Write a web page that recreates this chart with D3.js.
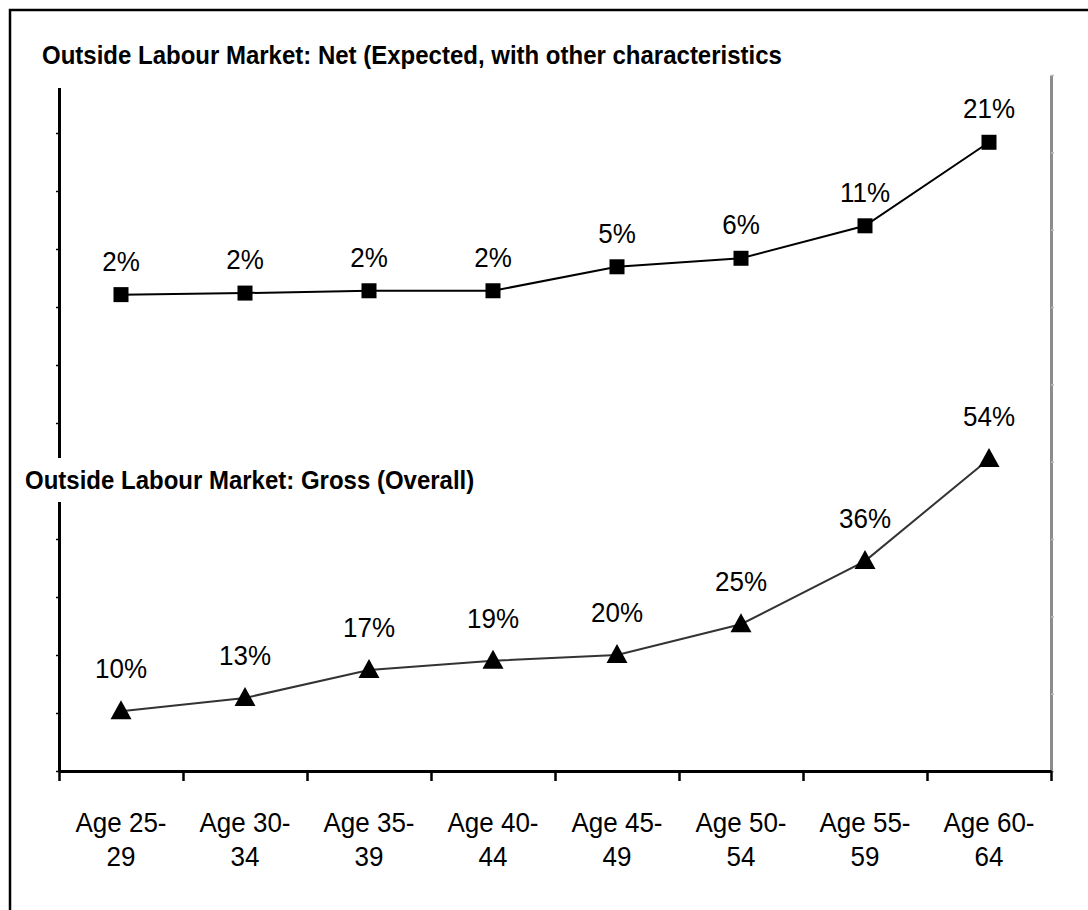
<!DOCTYPE html>
<html>
<head>
<meta charset="utf-8">
<script src="https://cdn.jsdelivr.net/npm/d3@7"></script>
<style>
  html, body { margin: 0; padding: 0; background: #fff; }
  svg { display: block; font-family: "Liberation Sans", Arial, sans-serif; }
</style>
</head>
<body>
<svg id="chart" width="1088" height="910"></svg>
<script>
// ---- data ----
const categories = ["Age 25-29", "Age 30-34", "Age 35-39", "Age 40-44", "Age 45-49", "Age 50-54", "Age 55-59", "Age 60-64"];
const categoryLines = [["Age 25-", "29"], ["Age 30-", "34"], ["Age 35-", "39"], ["Age 40-", "44"], ["Age 45-", "49"], ["Age 50-", "54"], ["Age 55-", "59"], ["Age 60-", "64"]];
const netValues = [0.016, 0.018, 0.021, 0.021, 0.052, 0.063, 0.105, 0.213];
const grossValues = [0.103, 0.126, 0.174, 0.190, 0.200, 0.253, 0.362, 0.538];
const leftTicks = [0, 0.1, 0.2, 0.3, 0.4, 0.5, 0.6, 0.7, 0.8, 0.9, 1.0, 1.1, 1.2];
const rightTicks = [-0.6, -0.5, -0.4, -0.3, -0.2, -0.1, 0, 0.1, 0.2, 0.3];
const netTitle = "Outside Labour Market: Net (Expected, with other characteristics";
const grossTitle = "Outside Labour Market: Gross (Overall)";

// ---- layout ----
const svg = d3.select("#chart");
const plotLeft = 59, plotRight = 1051, plotTop = 75, plotBottom = 771;
const stretch = 1.08;

svg.append("rect").attr("x", 10).attr("y", 10).attr("width", 1100).attr("height", 920)
  .attr("fill", "#fff").attr("stroke", "#000").attr("stroke-width", 2.5);

const x = d3.scaleBand().domain(categories).range([plotLeft, plotRight]).padding(0);
const xc = d => x(d) + x.bandwidth() / 2;
const xEdge = d3.scaleLinear().domain([0, categories.length]).range([plotLeft, plotRight]);
const yL = d3.scaleLinear().domain([0, 1.2]).range([plotBottom, plotTop]);
const yR = d3.scaleLinear().domain([-0.6, 0.3]).range([plotBottom, plotTop]);

// right axis (gray)
const gR = svg.append("g").attr("transform", `translate(${plotRight},0)`)
  .call(d3.axisRight(yR).tickValues(rightTicks).tickSize(3).tickSizeOuter(0).tickFormat(""));
gR.select(".domain").attr("stroke", "#8c8c8c").attr("stroke-width", 3);
gR.selectAll(".tick line").attr("stroke", "#bbb").attr("stroke-width", 1.5);

// left axis
const gL = svg.append("g").attr("transform", `translate(${plotLeft},0)`)
  .call(d3.axisLeft(yL).tickValues(leftTicks).tickSize(3).tickSizeOuter(0).tickFormat(""));
gL.select(".domain").attr("stroke", "#000").attr("stroke-width", 3);
gL.selectAll(".tick line").attr("stroke", "#000").attr("stroke-width", 1.5);

// bottom axis
const gB = svg.append("g").attr("transform", `translate(0,${plotBottom})`)
  .call(d3.axisBottom(xEdge).tickValues(d3.range(categories.length + 1)).tickSize(10).tickSizeOuter(0).tickFormat(""));
gB.select(".domain").attr("stroke", "#000").attr("stroke-width", 3);
gB.selectAll(".tick line").attr("stroke", "#000").attr("stroke-width", 2.5);

// category labels (two lines each)
[0, 1].forEach(line => {
  svg.append("g").selectAll("text").data(categories).join("text")
    .attr("transform", d => `translate(${xc(d)},${line === 0 ? 832 : 866}) scale(1,${stretch})`)
    .attr("text-anchor", "middle").attr("font-size", 26).attr("fill", "#000")
    .text((d, i) => categoryLines[i][line]);
});

// titles with white boxes
svg.append("rect").attr("x", 30).attr("y", 36).attr("width", 765).attr("height", 52).attr("fill", "#fff");
svg.append("text").attr("transform", `translate(42,64) scale(1,${stretch})`)
  .attr("font-size", 24).attr("font-weight", "bold").attr("fill", "#000").text(netTitle);
svg.append("rect").attr("x", 20).attr("y", 458).attr("width", 470).attr("height", 44).attr("fill", "#fff");
svg.append("text").attr("transform", `translate(25,489) scale(1,${stretch})`)
  .attr("font-size", 24).attr("font-weight", "bold").attr("fill", "#000").text(grossTitle);

// net series (right axis)
const lineNet = d3.line().x((d, i) => xc(categories[i])).y(d => yR(d));
svg.append("path").datum(netValues).attr("d", lineNet)
  .attr("fill", "none").attr("stroke", "#000").attr("stroke-width", 2);
svg.append("g").selectAll("rect").data(netValues).join("rect")
  .attr("x", (d, i) => xc(categories[i]) - 7.5).attr("y", d => yR(d) - 7.5)
  .attr("width", 15).attr("height", 15).attr("fill", "#000");
svg.append("g").selectAll("text").data(netValues).join("text")
  .attr("transform", (d, i) => `translate(${xc(categories[i])},${yR(d) - 24}) scale(1,${stretch})`)
  .attr("text-anchor", "middle").attr("font-size", 26).attr("fill", "#000")
  .text(d => d3.format(".0%")(d));

// gross series (left axis)
const lineGross = d3.line().x((d, i) => xc(categories[i])).y(d => yL(d));
svg.append("path").datum(grossValues).attr("d", lineGross)
  .attr("fill", "none").attr("stroke", "#333").attr("stroke-width", 2);
svg.append("g").selectAll("path").data(grossValues).join("path")
  .attr("transform", (d, i) => `translate(${xc(categories[i])},${yL(d)})`)
  .attr("d", "M0,-11L10.5,8L-10.5,8Z").attr("fill", "#000");
svg.append("g").selectAll("text").data(grossValues).join("text")
  .attr("transform", (d, i) => `translate(${xc(categories[i])},${yL(d) - 33}) scale(1,${stretch})`)
  .attr("text-anchor", "middle").attr("font-size", 26).attr("fill", "#000")
  .text(d => d3.format(".0%")(d));
</script>
</body>
</html>
